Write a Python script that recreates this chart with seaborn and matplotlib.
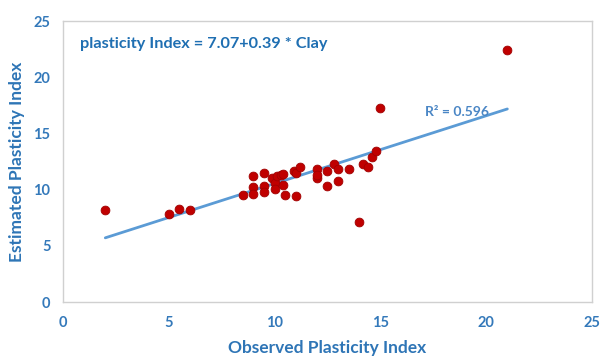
import numpy as np
import pandas as pd
import matplotlib
matplotlib.use("Agg")
import matplotlib.pyplot as plt
import seaborn as sns

# Observed vs. estimated plasticity index
observed = [2.0, 5.0, 5.5, 6.0, 8.5, 9.0, 9.0, 9.0, 9.5, 9.5, 9.5, 9.9, 10.0,
            10.0, 10.1, 10.3, 10.4, 10.4, 10.5, 11.0, 10.9, 11.0, 11.2, 12.0,
            12.0, 12.0, 12.5, 12.5, 12.8, 13.0, 13.0, 13.5, 14.0, 14.2, 14.4,
            14.6, 14.8, 15.0, 21.0]
estimated = [8.2, 7.8, 8.3, 8.2, 9.5, 11.2, 10.2, 9.6, 11.5, 10.3, 9.8, 11.0,
             10.6, 10.1, 11.2, 11.3, 11.4, 10.4, 9.5, 9.4, 11.7, 11.5, 12.0,
             11.8, 11.0, 11.3, 10.3, 11.7, 12.3, 11.8, 10.8, 11.8, 7.1, 12.3,
             12.0, 12.9, 13.4, 17.3, 22.4]
ticks = [0, 5, 10, 15, 20, 25]
equation_text = "plasticity Index = 7.07+0.39 * Clay"
r2_text = "R² = 0.596"

df = pd.DataFrame({"Observed": observed, "Estimated": estimated})

sns.set_style("white")
plt.rcParams["font.family"] = ["Lato", "DejaVu Sans"]

blue = "#2e75b6"
fig = plt.figure(figsize=(6.01, 3.57), dpi=100)
ax = fig.add_axes([0.1048, 0.154, 0.8802, 0.787])

sns.regplot(data=df, x="Observed", y="Estimated", ax=ax, ci=None,
            truncate=True,
            scatter_kws=dict(s=40, color="#c00000", edgecolor="#a00000",
                             linewidths=0.6, alpha=1, zorder=3),
            line_kws=dict(color="#5b9bd5", lw=2.0, zorder=2))

ax.set_xlim(0, 25)
ax.set_ylim(0, 25)
ax.set_xticks(ticks)
ax.set_yticks(ticks)
ax.tick_params(length=0, labelsize=10.5, labelcolor="#3479ba")
ax.tick_params(axis="x", pad=10)
ax.tick_params(axis="y", pad=9)
for lbl in ax.get_xticklabels() + ax.get_yticklabels():
    lbl.set_fontweight("bold")

for sp in ax.spines.values():
    sp.set_visible(True)
    sp.set_color("#d0d0d0")
    sp.set_linewidth(1.0)

ax.set_xlabel("Observed Plasticity Index", fontsize=12.5, fontweight="bold",
              color=blue, labelpad=7.5)
ax.set_ylabel("Estimated Plasticity Index", fontsize=12.5, fontweight="bold",
              color=blue, labelpad=6)

ax.text(0.032, 0.918, equation_text, transform=ax.transAxes, fontsize=11.7,
        fontweight="bold", color="#1f6fb2", va="center", ha="left")
ax.text(0.684, 0.676, r2_text, transform=ax.transAxes, fontsize=10,
        fontweight="bold", color="#4a86c5", va="center", ha="left")

fig.savefig("out.png", dpi=100)
